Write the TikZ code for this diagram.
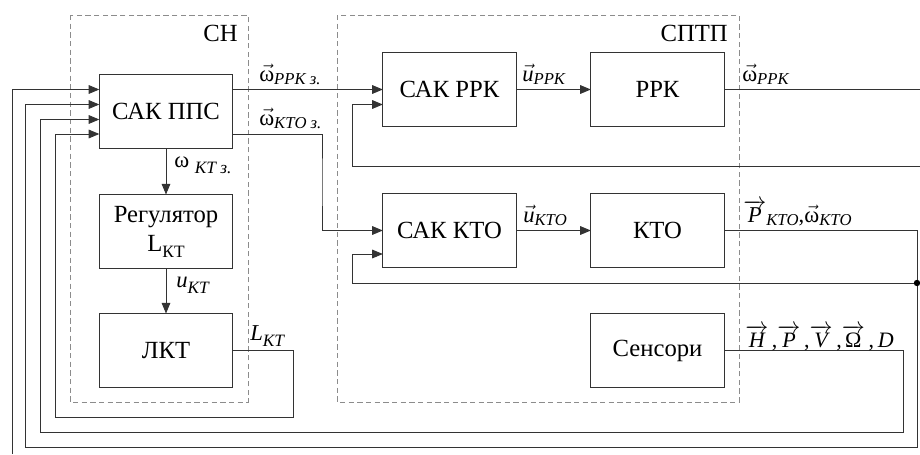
\documentclass[tikz,border=0pt]{standalone}
\usepackage{fontspec}
\setmainfont{Liberation Serif}
\usetikzlibrary{arrows.meta}
\newcommand{\lsub}[1]{\raisebox{-0.3ex}{\fontsize{12.5}{13}\selectfont\itshape #1}}
\newcommand{\lsubd}[1]{\raisebox{-0.6ex}{\fontsize{13}{13}\selectfont\itshape #1}}
\newcommand{\vw}{$\vec{\hbox{ω}}$}
\newcommand{\vu}{$\vec{\hbox{\itshape u}}$}
\newcommand{\ovr}[1]{$\overrightarrow{\hbox{#1}}$}
\begin{document}
\begin{tikzpicture}[x=0.75pt,y=-0.75pt,
  font=\rmfamily\fontsize{18.5}{22}\selectfont,
  blk/.style={draw=black!80, line width=0.7pt, inner sep=0pt, outer sep=0pt,
    minimum width=100pt, minimum height=55.5pt, align=center},
  ln/.style={draw=black!80, line width=0.7pt},
  arr/.style={ln, -{Triangle[length=8pt,width=6.5pt]}},
  grp/.style={draw=black!45, line width=0.75pt, dash pattern=on 4pt off 2.5pt},
  lbl/.style={inner sep=0pt, anchor=base west, font=\rmfamily\fontsize{17}{18}\selectfont},
  grplbl/.style={inner sep=0pt, anchor=base east, font=\rmfamily\fontsize{18.5}{20}\selectfont}]
\useasboundingbox (0,0) rectangle (920,454);
% groups
\draw[grp] (70,15) rectangle (248,402);
\draw[grp] (337,15) rectangle (739,402);
\node[grplbl] (gsn) at (238,41) {СН};
\node[grplbl] (gsp) at (728,41) {СПТП};
% blocks
\node[blk] (pps) at (166,111) {САК ППС};
\node[blk] (reg) at (166,231.5) {Регулятор\\L\raisebox{-0.5ex}{\fontsize{13}{13}\selectfont КТ}};
\node[blk] (lkt) at (166,350.5) {ЛКТ};
\node[blk] (sakrrk) at (449.5,89.5) {САК РРК};
\node[blk] (rrk) at (657.5,89.5) {РРК};
\node[blk] (sakkto) at (449.5,230.5) {САК КТО};
\node[blk] (kto) at (657.5,230.5) {КТО};
\node[blk] (sens) at (657.5,350.5) {Сенсори};
% row coordinates
\coordinate (y89) at (0,89.5);
\coordinate (y104) at (0,104.5);
\coordinate (y119) at (0,119.5);
\coordinate (y134) at (0,134);
\coordinate (y230) at (0,230.5);
\coordinate (y254) at (0,254);
% bends
\coordinate (b1) at (322,182);
\coordinate (lk1) at (293,417);
\coordinate (lk2) at (55,417);
\coordinate (s1) at (903,432);
\coordinate (s2) at (40,432);
\coordinate (k1) at (917,447);
\coordinate (k2) at (25,447);
\coordinate (dot) at (917,283);
\coordinate (d1) at (352,283);
\coordinate (fb) at (920,166);
\coordinate (f1) at (352,166);
\coordinate (rend) at (920,89.5);
\coordinate (left) at (12,454);
% connectors
\draw[arr] (pps.east |- y89) -- (sakrrk.west |- y89);
\draw[arr] (pps.east |- y134) -| (b1) |- (sakkto.west |- y230);
\draw[arr] (pps) -- (reg);
\draw[arr] (reg) -- (lkt);
\draw[arr] (lkt.east) -| (lk1) -- (lk2) |- (pps.west |- y134);
\draw[arr] (sens.east) -| (s1) -- (s2) |- (pps.west |- y119);
\draw[arr] (kto.east) -| (k1) -- (k2) |- (pps.west |- y104);
\draw[arr] (left) |- (pps.west |- y89);
\draw[arr] (sakrrk) -- (rrk);
\draw[arr] (sakkto) -- (kto);
\draw[ln] (rrk.east) -- (rend);
\draw[arr] (fb) -- (f1) |- (sakrrk.west |- y104);
\draw[arr] (dot) -- (d1) |- (sakkto.west |- y254);
\fill[black] (dot) circle (3.2);
% labels
\node[lbl] (lw1) at (259,81) {\vw\lsub{РРК з.}};
\node[lbl] (lw2) at (259,125) {\vw\lsub{КТО з.}};
\node[lbl] (lw3) at (174,167) {ω \lsubd{КТ з.}};
\node[lbl] (lu1) at (176,287) {\textit{u}\lsubd{КТ}};
\node[lbl] (ll1) at (250,340) {\textit{L}\lsubd{КТ}};
\node[lbl] (lu2) at (522,81) {\vu\lsub{РРК}};
\node[lbl] (lu3) at (523,222) {\vu\lsub{КТО}};
\node[lbl] (lw4) at (742,81) {\vw\lsub{РРК}};
\node[lbl] (lpk) at (743,222) {\ovr{\itshape P}\lsub{КТО},\vw\lsub{КТО}};
\node[lbl, font=\rmfamily\fontsize{16.5}{18}\selectfont] (lh) at (745,347) {\ovr{\itshape H}\,,\ovr{\itshape P}\,,\ovr{\itshape V}\,,\ovr{Ω}\,,\,\textit{D}};
\end{tikzpicture}
\end{document}
